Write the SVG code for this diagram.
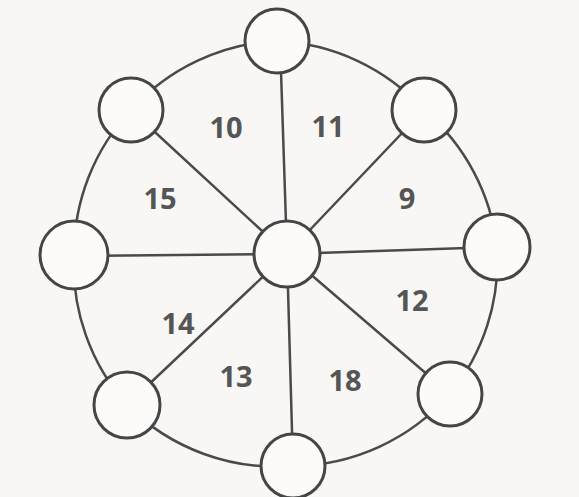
<svg xmlns="http://www.w3.org/2000/svg" width="579" height="497" viewBox="0 0 579 497">
  <style>
    .edge { fill: none; stroke: #4a4a4a; stroke-width: 2.5; stroke-linecap: round; }
    .node { fill: #fcfbfa; stroke: #454545; stroke-width: 3; }
    .lbl { font-family: "Open Sans", "DejaVu Sans", sans-serif; font-weight: bold; font-size: 29px; fill: #555555; text-anchor: middle; dominant-baseline: central; }
  </style>
  <rect x="0" y="0" width="579" height="497" fill="#f8f7f6"/>
  <g id="connectors">
    <path class="edge" d="M277 41 A211 211 0 0 1 424 110 A211 211 0 0 1 497 247 A211 211 0 0 1 450 394 A211 211 0 0 1 293 466 A211 211 0 0 1 127 405 A211 211 0 0 1 74 255 A211 211 0 0 1 131 110 A211 211 0 0 1 277 41"/>
    <line class="edge" x1="287" y1="254" x2="280" y2="41"/>
    <line class="edge" x1="287" y1="254" x2="424" y2="110"/>
    <line class="edge" x1="287" y1="254" x2="497" y2="247"/>
    <line class="edge" x1="287" y1="254" x2="450" y2="394"/>
    <line class="edge" x1="287" y1="254" x2="293" y2="466"/>
    <line class="edge" x1="287" y1="254" x2="127" y2="405"/>
    <line class="edge" x1="287" y1="254" x2="74" y2="256"/>
    <line class="edge" x1="287" y1="254" x2="131" y2="110"/>
  </g>
  <g id="node-top"><circle class="node" cx="277" cy="41" r="32"/></g>
  <g id="node-upper-right"><circle class="node" cx="424" cy="110" r="32"/></g>
  <g id="node-right"><circle class="node" cx="497" cy="247" r="33"/></g>
  <g id="node-lower-right"><circle class="node" cx="450" cy="394" r="32"/></g>
  <g id="node-bottom"><circle class="node" cx="293" cy="466" r="32"/></g>
  <g id="node-lower-left"><circle class="node" cx="127" cy="405" r="33"/></g>
  <g id="node-left"><circle class="node" cx="74" cy="255" r="34"/></g>
  <g id="node-upper-left"><circle class="node" cx="131" cy="110" r="32"/></g>
  <g id="node-center"><circle class="node" cx="287" cy="254" r="33"/></g>
  <g id="labels">
    <text class="lbl" x="226" y="126">10</text>
    <text class="lbl" x="328" y="125">11</text>
    <text class="lbl" x="407" y="197">9</text>
    <text class="lbl" x="160" y="197">15</text>
    <text class="lbl" x="412" y="299">12</text>
    <text class="lbl" x="178" y="322">14</text>
    <text class="lbl" x="236" y="375">13</text>
    <text class="lbl" x="345" y="379">18</text>
  </g>
</svg>
